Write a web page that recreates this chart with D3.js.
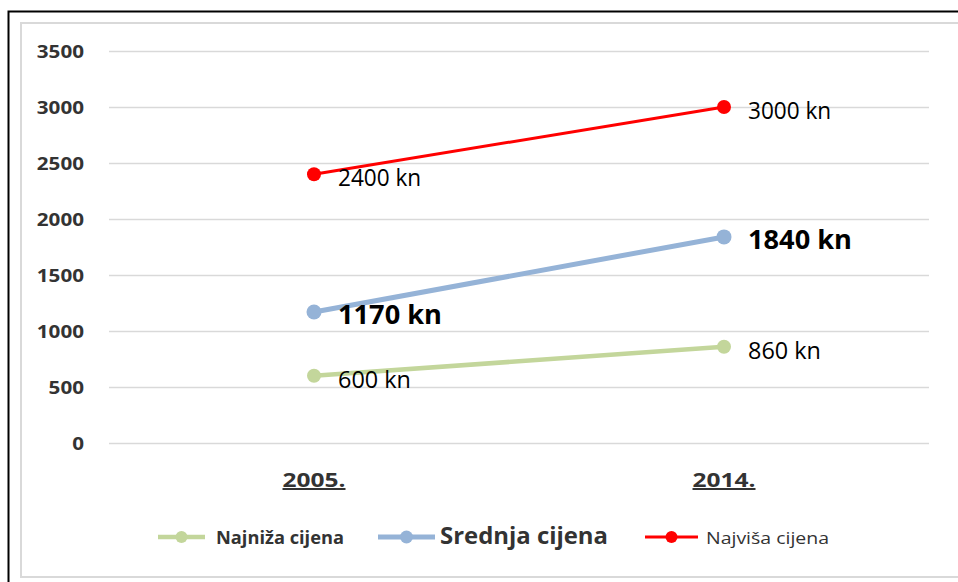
<!DOCTYPE html>
<html>
<head>
<meta charset="utf-8">
<script src="https://cdn.jsdelivr.net/npm/d3@7"></script>
<style>
  html, body { margin: 0; padding: 0; background: #fff; }
  svg { display: block; }
</style>
</head>
<body>
<svg id="chart" width="958" height="582"></svg>
<script>
const categories = ["2005.", "2014."];
const yTicks = [0, 500, 1000, 1500, 2000, 2500, 3000, 3500];
const najnizaCijena = [600, 860];
const srednjaCijena = [1170, 1840];
const najvisaCijena = [2400, 3000];
const seriesNames = ["Najniža cijena", "Srednja cijena", "Najviša cijena"];
const seriesLabels = [["600 kn", "860 kn"], ["1170 kn", "1840 kn"], ["2400 kn", "3000 kn"]];

const svg = d3.select("#chart");

// outer frame (black) and chart area border (gray)
svg.append("rect").attr("x", 8.5).attr("y", 11.5).attr("width", 1000).attr("height", 700)
  .attr("fill", "none").attr("stroke", "#000").attr("stroke-width", 2);
svg.append("rect").attr("x", 21).attr("y", 23).attr("width", 1000).attr("height", 554)
  .attr("fill", "#fff").attr("stroke", "#d9d9d9").attr("stroke-width", 2);

const x = d3.scaleBand().domain(categories).range([109, 929]).padding(0);
const y = d3.scaleLinear().domain([0, 3500]).range([443, 51]);
const cx = d => x(d) + x.bandwidth() / 2;

// gridlines
const grid = svg.append("g").attr("transform", "translate(109,0)")
  .call(d3.axisRight(y).tickValues(yTicks).tickSize(820).tickFormat(""));
grid.select(".domain").remove();
grid.selectAll("line").attr("stroke", "#d9d9d9").attr("stroke-width", 1.5);

// y labels
const yAx = svg.append("g").attr("transform", "translate(84,0)")
  .call(d3.axisLeft(y).tickValues(yTicks).tickSize(0).tickPadding(0).tickFormat(d3.format("d")));
yAx.select(".domain").remove();
yAx.selectAll("text")
  .attr("font-family", "'Open Sans', sans-serif").attr("font-weight", "bold")
  .attr("font-size", 18.5).attr("fill", "#333").attr("dy", "0.36em")
  .each(function(d) { const s = String(d); d3.select(this).attr("textLength", s.length * 11.8).attr("lengthAdjust", "spacingAndGlyphs"); });

// x labels
const xAx = svg.append("g").attr("transform", "translate(0,487)")
  .call(d3.axisBottom(x).tickSize(0).tickPadding(0));
xAx.select(".domain").remove();
xAx.selectAll("text")
  .attr("font-family", "'Open Sans', sans-serif").attr("font-weight", "bold")
  .attr("font-size", 20).attr("fill", "#333").attr("dy", 0)
  .attr("text-decoration", "underline")
  .attr("textLength", 63).attr("lengthAdjust", "spacingAndGlyphs");

const series = [
  { values: najnizaCijena, color: "#c3d69b", width: 4.5, r: 7 },
  { values: srednjaCijena, color: "#95b3d7", width: 5, r: 7.5 },
  { values: najvisaCijena, color: "#ff0000", width: 3, r: 7 }
];
const labelStyle = [
  { size: 23, weight: "normal" },
  { size: 27, weight: "bold" },
  { size: 23, weight: "normal" }
];

const line = d3.line().x((d, i) => cx(categories[i])).y(d => y(d));

series.forEach((s, si) => {
  const g = svg.append("g");
  g.append("path").datum(s.values).attr("d", line)
    .attr("fill", "none").attr("stroke", s.color).attr("stroke-width", s.width);
  g.selectAll("circle").data(s.values).join("circle")
    .attr("cx", (d, i) => cx(categories[i])).attr("cy", d => y(d))
    .attr("r", s.r).attr("fill", s.color);
  const st = labelStyle[si];
  g.selectAll("text").data(s.values).join("text")
    .attr("x", (d, i) => cx(categories[i]) + 24)
    .attr("y", d => y(d) + 12)
    .attr("font-family", "'Open Sans', sans-serif")
    .attr("font-size", st.size).attr("font-weight", st.weight).attr("fill", "#000")
    .attr("textLength", (d, i) => seriesLabels[si][i].replace(" kn", "").length * (st.weight === "bold" ? 13 : 10.3) + (st.weight === "bold" ? 52 : 42))
    .attr("lengthAdjust", "spacingAndGlyphs")
    .text((d, i) => seriesLabels[si][i]);
});

// legend
const legendItems = [
  { name: seriesNames[0], color: "#c3d69b", width: 4.5, r: 6, x1: 158, x2: 205, tx: 216, tw: 128, size: 17, weight: "bold" },
  { name: seriesNames[1], color: "#95b3d7", width: 5, r: 6.5, x1: 378, x2: 435, tx: 440, tw: 168, size: 23, weight: "bold" },
  { name: seriesNames[2], color: "#ff0000", width: 3, r: 6, x1: 645, x2: 698, tx: 706, tw: 123, size: 16.5, weight: "normal" }
];
const lg = svg.append("g");
legendItems.forEach(it => {
  const ly = 537;
  lg.append("line").attr("x1", it.x1).attr("x2", it.x2).attr("y1", ly).attr("y2", ly)
    .attr("stroke", it.color).attr("stroke-width", it.width);
  lg.append("circle").attr("cx", (it.x1 + it.x2) / 2).attr("cy", ly).attr("r", it.r).attr("fill", it.color);
  lg.append("text").attr("x", it.tx).attr("y", 543.8)
    .attr("font-family", "'Open Sans', sans-serif").attr("font-size", it.size)
    .attr("font-weight", it.weight).attr("fill", "#333")
    .attr("textLength", it.tw).attr("lengthAdjust", "spacingAndGlyphs")
    .text(it.name);
});
</script>
</body>
</html>
